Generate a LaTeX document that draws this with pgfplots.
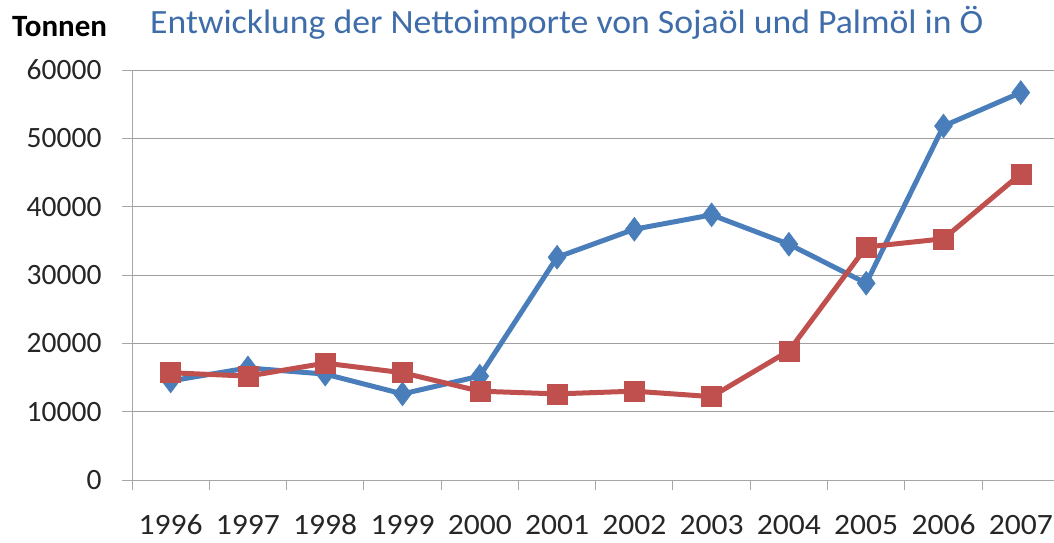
\documentclass[border=0pt]{standalone}
\usepackage{pgfplots}
\pgfplotsset{compat=1.18}
\usepackage{fontspec}
\setmainfont{Carlito}
\definecolor{sblue}{HTML}{4A7EBB}
\definecolor{sred}{HTML}{C0504D}
\definecolor{tblue}{HTML}{3F6DAA}
\begin{document}
\begin{tikzpicture}[x=1pt,y=1pt]
\useasboundingbox (0,0) rectangle (1054,542);
\begin{axis}[
  at={(132pt,62pt)}, anchor=south west,
  scale only axis, width=922pt, height=410pt,
  xmin=-0.5, xmax=11.43, ymin=0, ymax=60000,
  clip=false,
  axis x line*=bottom, axis y line*=left,
  axis line style={draw=gray!70, line width=1pt},
  ytick={0,10000,...,60000},
  ymajorgrids, grid style={draw=gray!75, line width=1pt},
  xtick={-0.5,0.5,...,11.5}, xticklabels={},
  extra x ticks={0,...,11},
  extra x tick labels={1996,1997,1998,1999,2000,2001,2002,2003,2004,2005,2006,2007},
  extra x tick style={major tick length=0pt, grid=none,
     tick label style={anchor=base, inner sep=0pt, yshift=-54pt, xscale=1.07}},
  tick style={draw=gray!70, line width=1pt},
  major tick length=10pt,
  tick align=outside,
  xtick pos=bottom, ytick pos=left,
  scaled y ticks=false,
  yticklabel style={/pgf/number format/fixed, /pgf/number format/use comma=false, /pgf/number format/1000 sep={}},
  /pgf/number format/assume math mode=true,
  tick label style={font=\fontsize{29.5}{31}\selectfont, text=black!85},
  yticklabel style={xshift=-17pt},
]
\addplot[color=sblue, line width=5pt, mark=diamond*, mark size=12pt, mark options={line width=0.5pt, fill=sblue}]
coordinates {(0,14500) (1,16400) (2,15500) (3,12600) (4,15200) (5,32600) (6,36700) (7,38800) (8,34500) (9,28800) (10,51800) (11,56700)};
\addplot[color=sred, line width=5pt, mark=square*, mark size=10pt, mark options={line width=0.5pt, fill=sred}]
coordinates {(0,15700) (1,15200) (2,17100) (3,15700) (4,13000) (5,12600) (6,13000) (7,12200) (8,18900) (9,34100) (10,35300) (11,44800)};
\end{axis}
\node[anchor=base west, inner sep=0pt, font=\bfseries\fontsize{31}{32}\selectfont] at (12,505) {Tonnen};
\node[anchor=base west, inner sep=0pt, text=tblue, font=\fontsize{34}{36}\selectfont, xscale=1.05] at (150,508) {Entwicklung der Nettoimporte von Sojaöl und Palmöl in Ö};
\end{tikzpicture}
\end{document}
